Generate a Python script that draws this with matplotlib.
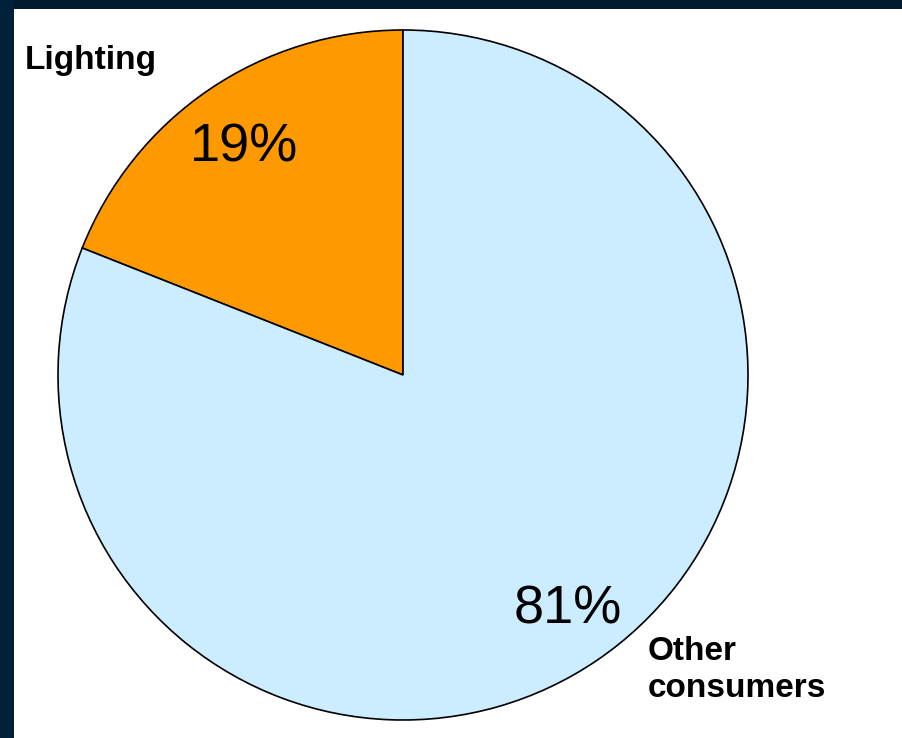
import matplotlib.pyplot as plt
from matplotlib.patches import Rectangle

# data
labels = ['Lighting', 'Other\nconsumers']
shares = [19, 81]
colors = ['#FF9900', '#CCECFF']

plt.rcParams['font.family'] = ['Liberation Sans', 'DejaVu Sans']

fig = plt.figure(figsize=(9.02, 7.38), dpi=100)
fig.patch.set_facecolor('white')
# dark frame at top and left
fig.patches.append(Rectangle((0, 1 - 9 / 738), 1, 9 / 738, transform=fig.transFigure,
                             facecolor='#021a2e', edgecolor='none', zorder=0))
fig.patches.append(Rectangle((0, 0), 14 / 902, 1, transform=fig.transFigure,
                             facecolor='#01213b', edgecolor='none', zorder=0))

ax = fig.add_axes([0, 0, 1, 1])
ax.set_facecolor('none')
wedges, _ = ax.pie(shares, colors=colors, startangle=90, counterclock=True,
                   center=(403, 363), radius=345,
                   wedgeprops={'edgecolor': 'black', 'linewidth': 1.2})
ax.set_xlim(0, 902)
ax.set_ylim(0, 738)
ax.set_aspect('equal')
ax.axis('off')

# percentages
ax.text(244, 590, f'{shares[0]}%', fontsize=39, ha='center', va='center')
ax.text(568, 129, f'{shares[1]}%', fontsize=39, ha='center', va='center')

# category labels
ax.text(91, 678, labels[0], fontsize=24, fontweight='bold', ha='center', va='center')
ax.text(648, 68, labels[1], fontsize=24, fontweight='bold', ha='left', va='center',
        linespacing=1.22)

fig.savefig('out.png', dpi=100)
